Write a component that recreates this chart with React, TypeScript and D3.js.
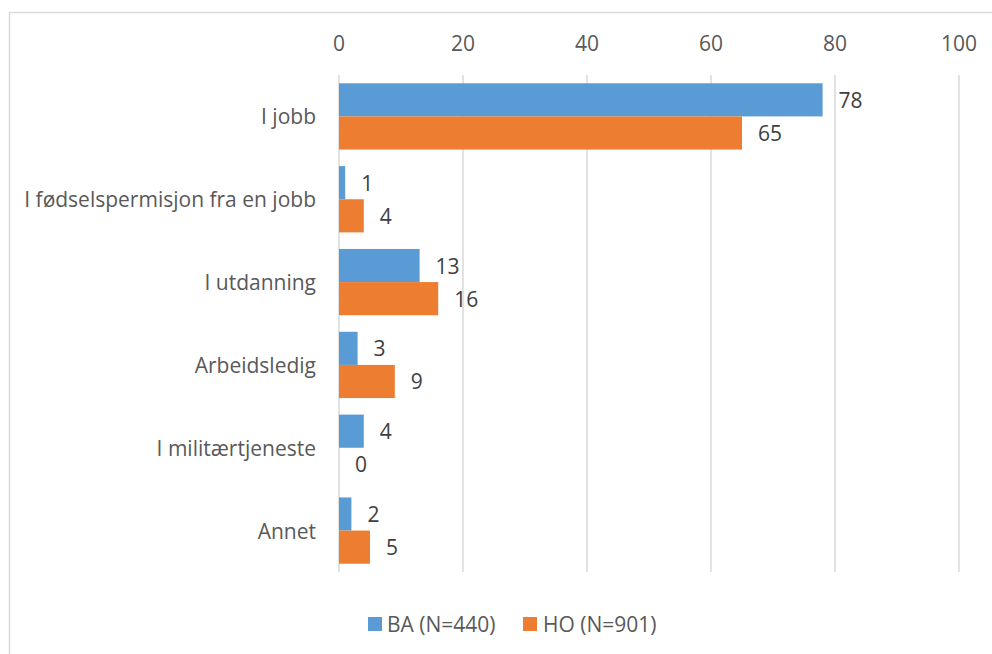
import React from 'react';
import * as d3 from 'd3';

const categories = [
  'I jobb',
  'I fødselspermisjon fra en jobb',
  'I utdanning',
  'Arbeidsledig',
  'I militærtjeneste',
  'Annet',
];
const seriesNames = ['BA (N=440)', 'HO (N=901)'];
const baValues = [78, 1, 13, 3, 4, 2];
const hoValues = [65, 4, 16, 9, 0, 5];
const xTicks = [0, 20, 40, 60, 80, 100];
const colors = ['#5B9BD5', '#ED7D31'];

const W = 992;
const H = 654;
const FONT = "'Open Sans', sans-serif";
const FS = 21;

export default function App() {
  const x = d3.scaleLinear().domain([0, 100]).range([339, 959]);
  const y = d3.scaleBand().domain(categories).range([75, 572]).paddingInner(0.2).paddingOuter(0.1);
  const sub = d3.scaleBand().domain(seriesNames).range([0, y.bandwidth()]);
  const series = [baValues, hoValues];

  return (
    <svg width={W} height={H} style={{ position: 'absolute', left: 0, top: 0 }} fontFamily={FONT}>
      <rect x={0} y={0} width={W} height={H} fill="#fff" />
      <rect x={9.5} y={12.5} width={W + 10} height={H + 10} fill="none" stroke="#D9D9D9" strokeWidth={1.5} />
      {xTicks.map(t => (
        <g key={t}>
          <line x1={x(t)} x2={x(t)} y1={75} y2={572} stroke="#D9D9D9" strokeWidth={1.5} />
          <text x={x(t)} y={43} textAnchor="middle" dominantBaseline="central" fontSize={FS} fill="#595959">
            {t}
          </text>
        </g>
      ))}
      {categories.map((c, i) => (
        <g key={c}>
          <text x={316} y={y(c)! + y.bandwidth() / 2} textAnchor="end" dominantBaseline="central" fontSize={FS} fill="#595959">
            {c}
          </text>
          {series.map((vals, s) => {
            const by = y(c)! + sub(seriesNames[s])!;
            const bh = sub.bandwidth();
            return (
              <g key={s}>
                <rect x={x(0)} y={by} width={x(vals[i]) - x(0)} height={bh} fill={colors[s]} />
                <text x={x(vals[i]) + 16} y={by + bh / 2} dominantBaseline="central" fontSize={FS} fill="#404040">
                  {vals[i]}
                </text>
              </g>
            );
          })}
        </g>
      ))}
      <g>
        <rect x={368} y={617} width={14} height={14} fill={colors[0]} />
        <text x={387} y={624} dominantBaseline="central" fontSize={FS} fill="#595959">{seriesNames[0]}</text>
        <rect x={523} y={617} width={14} height={14} fill={colors[1]} />
        <text x={543} y={624} dominantBaseline="central" fontSize={FS} fill="#595959">{seriesNames[1]}</text>
      </g>
    </svg>
  );
}
